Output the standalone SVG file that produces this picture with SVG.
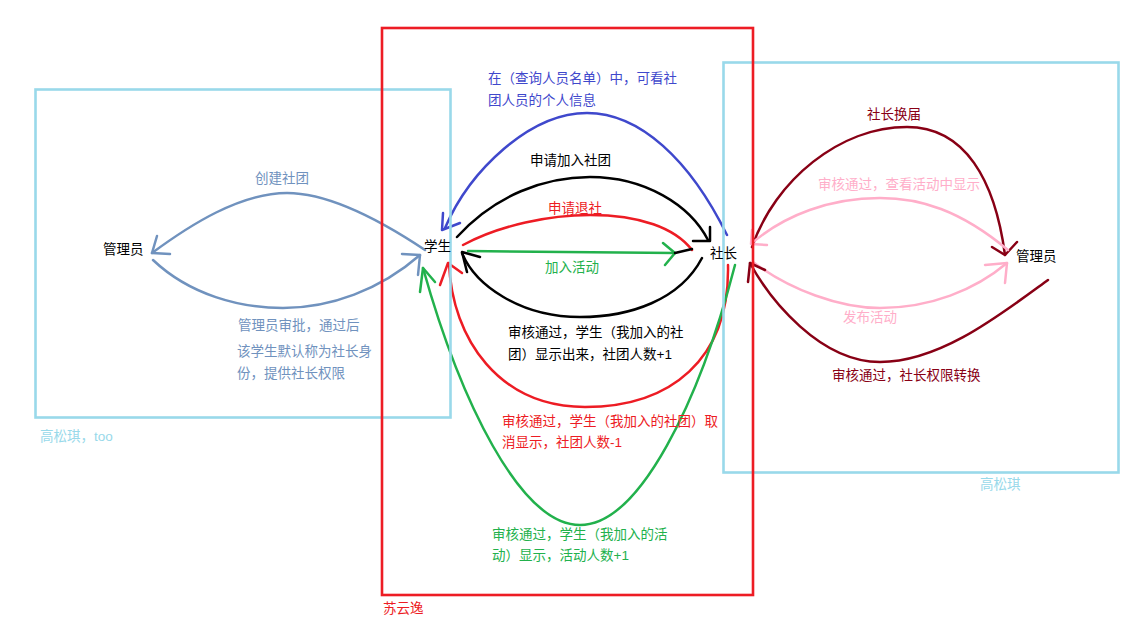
<svg xmlns="http://www.w3.org/2000/svg" width="1144" height="634" viewBox="0 0 1144 634">
<style>
text{font-family:"Liberation Sans","Noto Sans CJK SC",sans-serif;font-size:13.5px}
.e{fill:none;stroke-width:2.5;stroke-linecap:round;stroke-linejoin:round}
.box{fill:none;stroke-width:2.6}
.blue{stroke:#3f48cc}.blk{stroke:#000}.red{stroke:#ed1c24}.grn{stroke:#22b14c}
.bg{stroke:#7092be}.dr{stroke:#880015}.pk{stroke:#ffaec9}
.tblue{fill:#3f48cc}.tred{fill:#ed1c24}.tgrn{fill:#22b14c}.tbg{fill:#7092be}.tdr{fill:#880015}.tpk{fill:#ffaec9}.tlb{fill:#99d9ea}
</style>
<rect width="1144" height="634" fill="#fff"/>
<g id="connectors">
  <!-- 创建社团 -->
  <path class="e bg" d="M425,250 C380,220 330,193 287,193 C240,193 190,225 152,253"/>
  <path class="e bg" d="M157,236 L152,253 L170,254"/>
  <!-- 管理员审批 -->
  <path class="e bg" d="M153,260 C190,295 240,308 283,308 C330,308 380,290 420,255"/>
  <path class="e bg" d="M402,254 L420,255 L418,275"/>
  <!-- 查询人员名单 -->
  <path class="e blue" d="M727,235 C690,160 640,113 587,113 C530,113 470,170 445,228"/>
  <path class="e blue" d="M443,213 L442,230 L460,223"/>
  <!-- 申请加入社团 -->
  <path class="e blk" d="M457,237 C495,195 545,177 590,177 C645,177 690,205 708,240"/>
  <path class="e blk" d="M710,227 L710,241 L693,241"/>
  <!-- 申请退社 -->
  <path class="e red" d="M463,245 C500,225 550,215 590,215 C640,215 675,228 692,250"/>
  <!-- 加入活动 -->
  <path class="e grn" d="M468,251 L675,253"/>
  <path class="e grn" d="M663,243 L675,253 L665,265"/>
  <path class="e blk" d="M675,253 L692,249"/>
  <!-- 审核通过 社团人数+1 -->
  <path class="e blk" d="M702,258 C680,300 630,317 580,317 C520,317 475,285 462,253"/>
  <path class="e blk" d="M480,257 L462,252 L467,272"/>
  <!-- 审核通过 社团人数-1 -->
  <path class="e red" d="M728,265 C730,360 670,407 585,407 C500,407 452,340 449,263"/>
  <path class="e red" d="M440,285 L448,263 L462,273"/>
  <!-- 审核通过 活动人数+1 -->
  <path class="e grn" d="M735,265 C700,400 640,525 580,525 C520,525 460,400 423,268"/>
  <path class="e grn" d="M420,292 L423,268 L435,282"/>
  <!-- 社长换届 -->
  <path class="e dr" d="M752,247 C775,180 840,127 907,127 C965,127 995,180 1005,255"/>
  <path class="e dr" d="M992,247 L1005,255 L1017,242"/>
  <!-- 查看活动中显示 -->
  <path class="e pk" d="M1008,250 C960,210 920,198 880,198 C830,198 785,215 752,243"/>
  <path class="e pk" d="M752,230 L751,244 L767,245"/>
  <!-- 发布活动 -->
  <path class="e pk" d="M753,262 C790,290 840,308 880,308 C930,308 975,290 1007,263"/>
  <path class="e pk" d="M985,265 L1007,263 L1005,283"/>
  <!-- 社长权限转换 -->
  <path class="e dr" d="M1048,280 C1000,315 940,362 880,362 C820,362 770,300 750,263"/>
  <path class="e dr" d="M765,270 L750,263 L748,282"/>
</g>
<g id="regions">
  <rect class="box" x="35.5" y="89.5" width="415" height="328" stroke="#99d9ea"/>
  <rect class="box" x="723.5" y="62.5" width="395" height="410" stroke="#99d9ea"/>
  <rect class="box" x="382" y="28" width="371" height="567" stroke="#ed1c24"/>
  <text class="tlb" x="40" y="441">高松琪，too</text>
  <text class="tlb" x="980" y="489">高松琪</text>
  <text class="tred" x="383" y="613">苏云逸</text>
</g>
<g id="node-admin-left"><text x="103" y="254">管理员</text></g>
<g id="node-student"><text x="424" y="251">学生</text></g>
<g id="node-president"><text x="710" y="258">社长</text></g>
<g id="node-admin-right"><text x="1016" y="261">管理员</text></g>
<g id="labels">
  <text class="tbg" x="255" y="183">创建社团</text>
  <text class="tbg" x="238" y="330">管理员审批，通过后</text>
  <text class="tbg" x="237" y="356">该学生默认称为社长身</text>
  <text class="tbg" x="237" y="378">份，提供社长权限</text>
  <text class="tblue" x="488" y="83">在（查询人员名单）中，可看社</text>
  <text class="tblue" x="488" y="105">团人员的个人信息</text>
  <text x="530" y="165">申请加入社团</text>
  <text class="tred" x="548" y="213">申请退社</text>
  <text class="tgrn" x="545" y="272">加入活动</text>
  <text x="508" y="337">审核通过，学生（我加入的社</text>
  <text x="508" y="359">团）显示出来，社团人数+1</text>
  <text class="tred" x="502" y="426">审核通过，学生（我加入的社团）取</text>
  <text class="tred" x="502" y="447">消显示，社团人数-1</text>
  <text class="tgrn" x="492" y="539">审核通过，学生（我加入的活</text>
  <text class="tgrn" x="492" y="560">动）显示，活动人数+1</text>
  <text class="tdr" x="867" y="119">社长换届</text>
  <text class="tpk" x="818" y="189">审核通过，查看活动中显示</text>
  <text class="tpk" x="843" y="322">发布活动</text>
  <text class="tdr" x="832" y="380">审核通过，社长权限转换</text>
</g>
</svg>
